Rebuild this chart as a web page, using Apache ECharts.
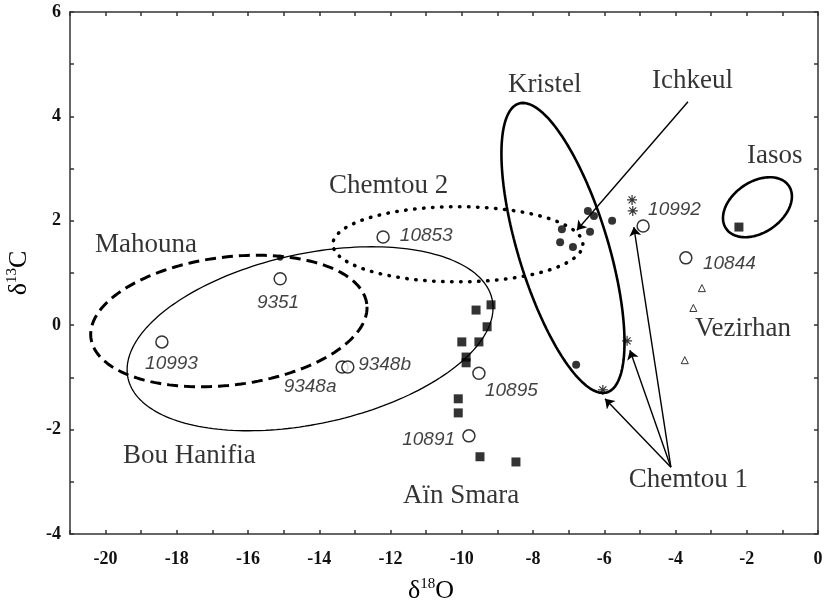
<!DOCTYPE html>
<html><head><meta charset="utf-8">
<script src="https://cdn.jsdelivr.net/npm/echarts@6/dist/echarts.min.js"></script>
<style>html,body{margin:0;padding:0;background:#fff}#c{width:824px;height:605px}</style>
</head><body><div id="c"></div>
<script>
// ---- axis ranges ----
const xRange = [-21, 0];
const yRange = [-4, 6];

// ---- hollow circles (numbered samples) ----
const sampleIds = ['10993', '9351', '10853', '9348a', '9348b', '10895', '10891', '10992', '10844'];
const sampleX = [-18.42, -15.10, -12.21, -13.36, -13.20, -9.52, -9.80, -4.91, -3.71];
const sampleY = [-0.32, 0.89, 1.69, -0.80, -0.80, -0.92, -2.12, 1.90, 1.29];
const sampleLabelX = [-18.15, -15.16, -11.74, -14.26, -12.91, -9.35, -10.19, -4.77, -3.23];
const sampleLabelY = [-0.74, 0.44, 1.71, -1.18, -0.76, -1.26, -2.20, 2.21, 1.17];
const sampleLabelAlign = ['center', 'center', 'left', 'center', 'left', 'left', 'right', 'left', 'left'];

// ---- filled squares (Aïn Smara, Iasos) ----
const ainSmaraX = [-9.18, -9.60, -9.29, -10.00, -9.52, -9.88, -9.88, -10.10, -10.10, -9.49, -8.48];
const ainSmaraY = [0.39, 0.29, -0.03, -0.32, -0.32, -0.61, -0.72, -1.41, -1.68, -2.52, -2.62];
const iasosX = [-2.22];
const iasosY = [1.88];

// ---- filled circles (Kristel / Ichkeul) ----
const kristelX = [-6.46, -6.29, -5.78, -7.19, -6.40, -7.24, -6.88, -6.79];
const kristelY = [2.19, 2.09, 2.00, 1.84, 1.79, 1.59, 1.50, -0.76];
const smallDotX = [-15.10];
const smallDotY = [1.29];

// ---- asterisks (Chemtou 1) ----
const chemtou1X = [-5.22, -5.20, -5.36, -6.04];
const chemtou1Y = [2.40, 2.19, -0.30, -1.24];

// ---- triangles (Vezirhan) ----
const vezirhanX = [-3.26, -3.50, -3.74];
const vezirhanY = [0.71, 0.33, -0.67];

// ---- ellipses: centre and two conjugate half-axes (data units) ----
const ellipseNames = ['Mahouna', 'Bou Hanifia', 'Chemtou 2', 'Kristel', 'Iasos'];
const ellipseCenter = [[-16.54, 0.08], [-14.26, -0.26], [-10.11, 1.55], [-7.16, 1.48], [-1.70, 2.26]];
const ellipseAxisU = [[3.873, 0.325], [5.112, 0.754], [3.51, 0.0], [-1.237, 2.767], [0.880, 0.411]];
const ellipseAxisV = [[-0.219, 1.217], [-0.505, 1.593], [0.0, 0.72], [-1.206, -0.251], [-0.403, 0.401]];

// ---- arrows ----
const ichkeulArrow = [[-3.65, 4.28], [-6.77, 1.82]];
const chemtou1Origin = [-4.13, -2.72];
const chemtou1Targets = [[-5.98, -1.41], [-5.28, -0.48], [-5.17, 1.88]];

// ---- region labels ----
const regionNames = ['Mahouna', 'Bou Hanifia', 'Aïn Smara', 'Chemtou 1', 'Chemtou 2', 'Kristel', 'Ichkeul', 'Iasos', 'Vezirhan'];
const regionX = [-20.30, -19.51, -11.65, -5.31, -13.73, -8.70, -4.66, -1.99, -3.45];
const regionY = [1.54, -2.51, -3.27, -2.97, 2.67, 4.60, 4.68, 3.24, -0.07];

const zip = (xs, ys) => xs.map((x, i) => [x, ys[i]]);

function ellipsePoints(i) {
  const c = ellipseCenter[i], u = ellipseAxisU[i], v = ellipseAxisV[i];
  const pts = [];
  const N = 200;
  for (let k = 0; k <= N; k++) {
    const t = 2 * Math.PI * k / N;
    pts.push([c[0] + u[0] * Math.cos(t) + v[0] * Math.sin(t),
              c[1] + u[1] * Math.cos(t) + v[1] * Math.sin(t)]);
  }
  return pts;
}

const ellipseStyles = [
  { width: 3, type: [11, 6], cap: 'butt' },
  { width: 1.3, type: 'solid' },
  { width: 3.5, type: [0.5, 8.5], cap: 'round' },
  { width: 2.6, type: 'solid' },
  { width: 2.6, type: 'solid' }
];

const serif = '"Liberation Serif", "Times New Roman", serif';
const sans = '"Liberation Sans", Arial, sans-serif';
const axisColor = '#333';
const ink = '#000';

const series = [];
ellipseNames.forEach((n, i) => {
  series.push({
    name: n, type: 'line', data: ellipsePoints(i), showSymbol: false, symbol: 'none',
    smooth: false, silent: true, z: 2,
    lineStyle: Object.assign({ color: ink }, ellipseStyles[i])
  });
});

// arrows
series.push({
  type: 'lines', coordinateSystem: 'cartesian2d', silent: true, z: 3,
  symbol: ['none', 'arrow'], symbolSize: 9,
  lineStyle: { color: ink, width: 1.4, opacity: 1, curveness: 0 },
  data: [{ coords: ichkeulArrow }].concat(chemtou1Targets.map(t => ({ coords: [chemtou1Origin, t] })))
});

series.push({
  type: 'scatter', data: zip(ainSmaraX, ainSmaraY).concat(zip(iasosX, iasosY)),
  symbol: 'rect', symbolSize: 9, itemStyle: { color: ink }, z: 5, silent: true
});
series.push({
  type: 'scatter', data: zip(kristelX, kristelY),
  symbol: 'circle', symbolSize: 8, itemStyle: { color: ink }, z: 5, silent: true
});
series.push({
  type: 'scatter', data: zip(smallDotX, smallDotY),
  symbol: 'circle', symbolSize: 6, itemStyle: { color: ink }, z: 5, silent: true
});
series.push({
  type: 'scatter', data: zip(sampleX, sampleY),
  symbol: 'circle', symbolSize: 12, itemStyle: { color: '#fff', borderColor: ink, borderWidth: 1.5 }, z: 5, silent: true
});
series.push({
  type: 'scatter', data: zip(vezirhanX, vezirhanY),
  symbol: 'triangle', symbolSize: 7, itemStyle: { color: '#fff', borderColor: ink, borderWidth: 1 }, z: 5, silent: true
});
series.push({
  type: 'scatter', data: zip(chemtou1X, chemtou1Y),
  symbol: 'path://M5,0 L5,10 M0,5 L10,5 M1.5,1.5 L8.5,8.5 M8.5,1.5 L1.5,8.5', symbolSize: 10,
  itemStyle: { color: 'none', borderColor: ink, borderWidth: 1.2 }, z: 5, silent: true
});

// sample labels
series.push({
  type: 'scatter', symbolSize: 0, z: 6, silent: true,
  data: sampleIds.map((s, i) => ({ value: [sampleLabelX[i], sampleLabelY[i], s], label: { align: sampleLabelAlign[i] } })),
  label: { show: true, position: 'inside', formatter: p => p.value[2], verticalAlign: 'middle',
    fontFamily: sans, fontStyle: 'italic', fontSize: 19, color: '#111' }
});
// region labels
series.push({
  type: 'scatter', symbolSize: 0, z: 6, silent: true,
  data: regionNames.map((s, i) => ({ value: [regionX[i], regionY[i], s] })),
  label: { show: true, position: 'inside', formatter: p => p.value[2], align: 'left', verticalAlign: 'middle',
    fontFamily: serif, fontSize: 27, color: ink }
});

const tickLabel = { fontFamily: serif, fontSize: 18, fontWeight: 'bold', color: '#111' };
const nameRich = {
  a: { fontFamily: serif, fontSize: 26, color: ink },
  s: { fontFamily: serif, fontSize: 15, color: ink, padding: [0, 0, 14, 0] }
};

const chart = echarts.init(document.getElementById('c'));
chart.setOption({
  animation: false,
  backgroundColor: '#fff',
  grid: { left: 70, right: 6, top: 12, bottom: 71, containLabel: false, outerBoundsMode: 'none' },
  xAxis: [
    { type: 'value', min: xRange[0], max: xRange[1], interval: 1, position: 'bottom',
      axisLine: { show: true, onZero: false, lineStyle: { color: axisColor, width: 1.5 } },
      axisTick: { show: true, inside: true, length: 4, lineStyle: { color: axisColor, width: 1.5 } },
      axisLabel: Object.assign({ margin: 16, formatter: v => (v % 2 === 0 ? String(v === 0 ? 0 : v) : '') }, tickLabel),
      splitLine: { show: false },
      name: '{a|δ}{s|18}{a|O}', nameLocation: 'middle', nameGap: 43,
      nameTextStyle: { rich: nameRich, padding: [0, 26, 0, 0] } },
    { type: 'value', min: xRange[0], max: xRange[1], interval: 1, position: 'top',
      axisLine: { show: true, onZero: false, lineStyle: { color: axisColor, width: 1.5 } },
      axisTick: { show: true, inside: true, length: 4, lineStyle: { color: axisColor, width: 1.5 } },
      axisLabel: { show: false }, splitLine: { show: false } }
  ],
  yAxis: [
    { type: 'value', min: yRange[0], max: yRange[1], interval: 1, position: 'left',
      axisLine: { show: true, onZero: false, lineStyle: { color: axisColor, width: 1.5 } },
      axisTick: { show: true, inside: true, length: 4, lineStyle: { color: axisColor, width: 1.5 } },
      axisLabel: Object.assign({ margin: 9, formatter: v => (v % 2 === 0 ? String(v === 0 ? 0 : v) : '') }, tickLabel),
      splitLine: { show: false },
      name: '{a|δ}{s|13}{a|C}', nameLocation: 'middle', nameGap: 36, nameRotate: 90,
      nameTextStyle: { rich: nameRich } },
    { type: 'value', min: yRange[0], max: yRange[1], interval: 1, position: 'right',
      axisLine: { show: true, onZero: false, lineStyle: { color: axisColor, width: 1.5 } },
      axisTick: { show: true, inside: true, length: 4, lineStyle: { color: axisColor, width: 1.5 } },
      axisLabel: { show: false }, splitLine: { show: false } }
  ],
  series: series
});
</script>
</body></html>
